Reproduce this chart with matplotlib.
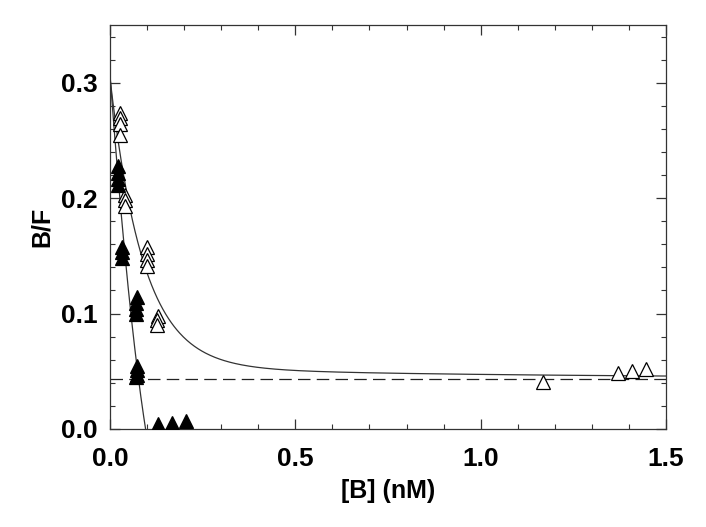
import numpy as np
import matplotlib
matplotlib.use("Agg")
import matplotlib.pyplot as plt
from matplotlib.ticker import MultipleLocator

# ---- data ----
open_x = [0.026, 0.026, 0.026, 0.026,
          0.040, 0.040, 0.040,
          0.100, 0.100, 0.100, 0.100,
          0.130, 0.128, 0.126,
          1.167, 1.371, 1.409, 1.445]
open_y = [0.274, 0.269, 0.264, 0.255,
          0.203, 0.198, 0.193,
          0.158, 0.152, 0.146, 0.141,
          0.098, 0.094, 0.090,
          0.041, 0.0487, 0.050, 0.0517]

filled_x = [0.022, 0.022, 0.022, 0.022,
            0.033, 0.033, 0.033,
            0.072, 0.071, 0.070, 0.069,
            0.074, 0.073, 0.072, 0.071,
            0.130, 0.166, 0.205]
filled_y = [0.228, 0.222, 0.217, 0.211,
            0.158, 0.153, 0.148,
            0.114, 0.109, 0.104, 0.100,
            0.055, 0.051, 0.047, 0.045,
            0.0043, 0.0055, 0.007]

# fit parameters (curves drawn by the original analysis)
open_fit = dict(c=0.044, a=0.25, tau=0.09, b=0.010, tau2=0.9)
filled_fit = dict(y0=0.307, b1=-4.35, b2=12.0)
nonspecific = 0.043

xticks = [0.0, 0.5, 1.0, 1.5]
yticks = [0.0, 0.1, 0.2, 0.3]

# ---- figure ----
fig = plt.figure(figsize=(7.06, 5.27), dpi=100)
ax = fig.add_axes([110/706, 1-429/527, 556/706, 404/527])

font = dict(family=["Liberation Sans", "DejaVu Sans"], weight="bold")

xs = np.linspace(0, 1.5, 600)
p = open_fit
ys = p["c"] + p["a"]*np.exp(-xs/p["tau"]) + p["b"]*np.exp(-xs/p["tau2"])
ax.plot(xs, ys, color="#333333", lw=0.9, zorder=2)

q = filled_fit
xf = np.linspace(0, 0.2, 400)
yf = q["y0"] + q["b1"]*xf + q["b2"]*xf**2
mask = yf >= 0
ax.plot(xf[mask], yf[mask], color="#333333", lw=0.9, zorder=2)

ax.axhline(nonspecific, color="#222222", lw=0.9, dashes=(10, 5), zorder=1)

ax.plot(open_x, open_y, linestyle="none", marker="^", markersize=10,
        markerfacecolor="white", markeredgecolor="black", markeredgewidth=0.9, zorder=3)
ax.plot(filled_x, filled_y, linestyle="none", marker="^", markersize=10,
        markerfacecolor="black", markeredgecolor="black", markeredgewidth=0.9, zorder=4)

ax.set_xlim(0, 1.5)
ax.set_ylim(0, 0.35)
ax.set_xticks(xticks)
ax.set_yticks(yticks)
ax.set_xticklabels([f"{v:.1f}" for v in xticks], fontdict=dict(size=19, **font))
ax.set_yticklabels([f"{v:.1f}" for v in yticks], fontdict=dict(size=19, **font))
ax.xaxis.set_minor_locator(MultipleLocator(0.1))
ax.yaxis.set_minor_locator(MultipleLocator(0.02))
ax.tick_params(which="both", direction="in", top=True, right=True, color="#333333")
ax.tick_params(axis="x", which="major", length=7, width=0.9, pad=13)
ax.tick_params(axis="y", which="major", length=7, width=0.9, pad=9)
ax.tick_params(which="minor", length=3.5, width=0.8)
for s in ax.spines.values():
    s.set_linewidth(0.9)
    s.set_color("#333333")

ax.set_xlabel("[B] (nM)", fontsize=18, labelpad=6, **font)
ax.set_ylabel("B/F", fontsize=18, labelpad=5, **font)

fig.savefig("out.png", dpi=100)
